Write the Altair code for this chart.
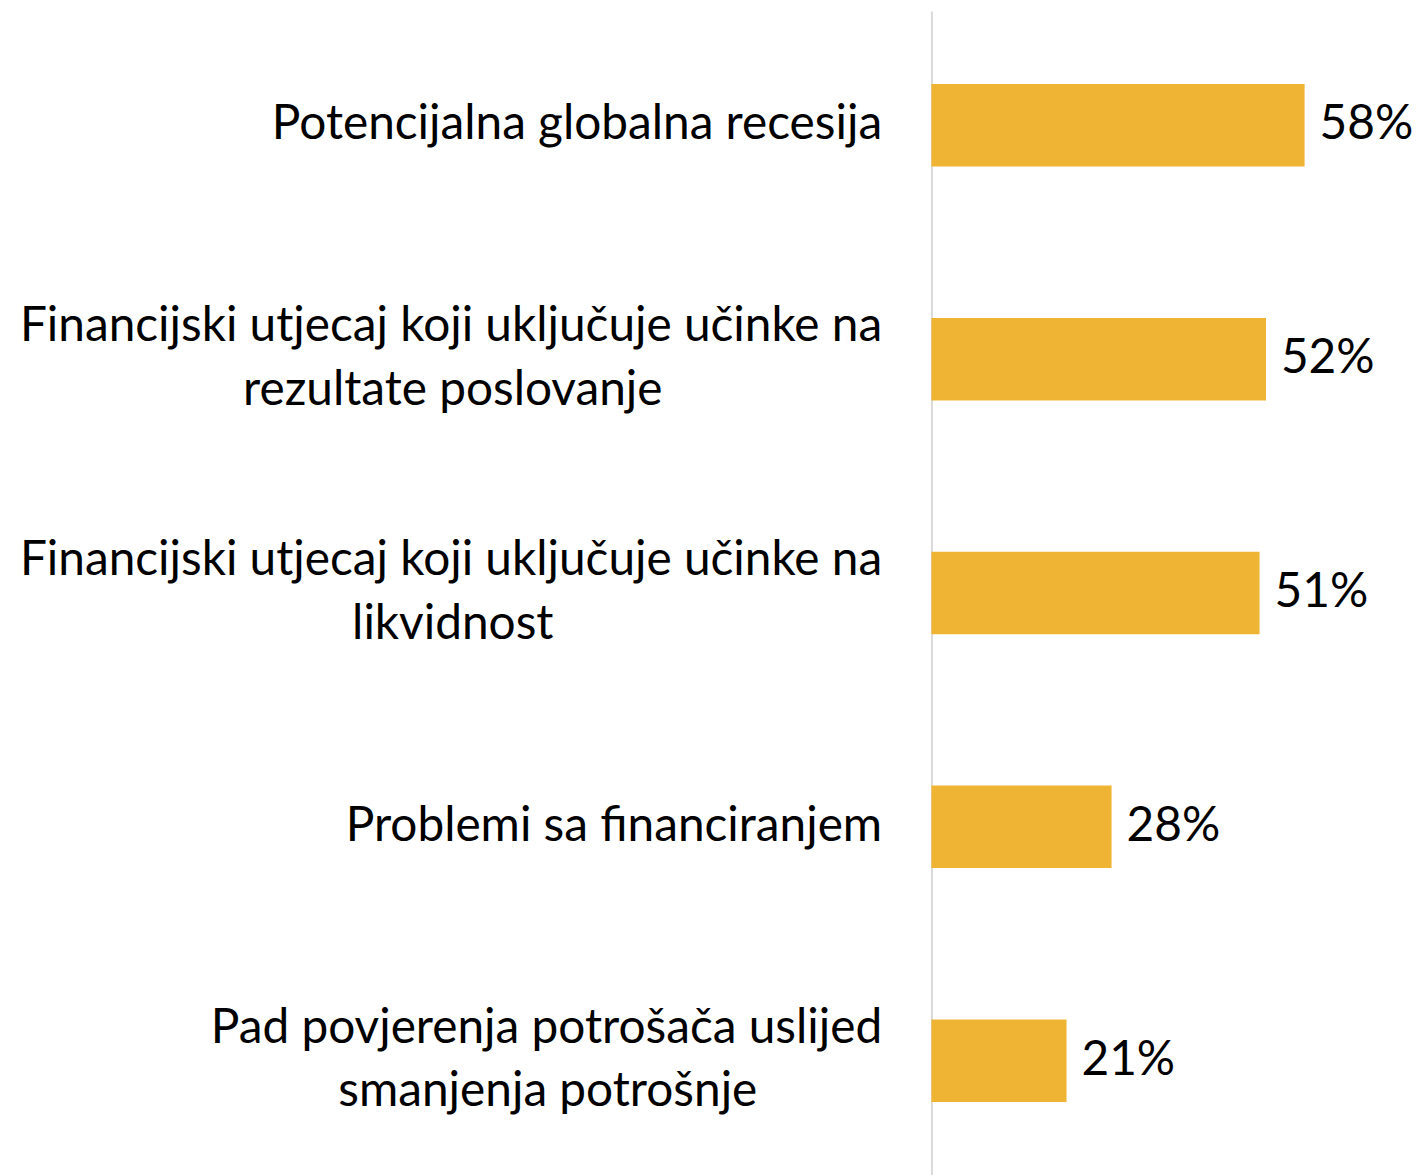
import altair as alt
import pandas as pd

categories = [
    "Potencijalna globalna recesija",
    "Financijski utjecaj koji uključuje učinke na|rezultate poslovanje",
    "Financijski utjecaj koji uključuje učinke na|likvidnost",
    "Problemi sa financiranjem",
    "Pad povjerenja potrošača uslijed|smanjenja potrošnje",
]
values = [58, 52, 51, 28, 21]
value_labels = ["58%", "52%", "51%", "28%", "21%"]

df = pd.DataFrame({"cat": categories, "val": values, "lab": value_labels})
df["line2"] = [c.split("|")[1] if "|" in c else "" for c in categories]

# style constants
FONT = "Lato"
FS = 48
LABEL_PAD = 50
LINE_SHIFT = 32
# approximate rendered width of the first label line (px), used to centre line 2 under it
FIRST_LINE_W = {1: 862, 2: 862, 4: 671}

y_scale = alt.Scale(paddingInner=0.647, paddingOuter=0.3128)
y = alt.Y(
    "cat:N",
    sort=categories,
    scale=y_scale,
    axis=alt.Axis(
        title=None,
        ticks=False,
        domain=True,
        domainColor="#d9d9d9",
        domainWidth=2,
        labelExpr="split(datum.label, '|')[0]",
        labelFont=FONT,
        labelFontSize=FS,
        labelColor="#000000",
        labelPadding=LABEL_PAD,
        labelAlign="right",
        labelBaseline="middle",
        labelLimit=0,
        labelOffset={
            "condition": {"test": "indexof(datum.label, '|') >= 0", "value": -LINE_SHIFT},
            "value": 0,
        },
    ),
)
y_plain = alt.Y("cat:N", sort=categories, scale=y_scale)
x = alt.X("val:Q", scale=alt.Scale(domain=[0, 75]), axis=None)

bars = alt.Chart(df).mark_bar(color="#F0B435").encode(x=x, y=y)
text = alt.Chart(df).mark_text(
    align="left", baseline="middle", dx=15, font=FONT, fontSize=FS, color="#000000"
).encode(x=x, y=y_plain, text="lab:N")

layers = [bars, text]
for i, w in FIRST_LINE_W.items():
    layers.append(
        alt.Chart(df)
        .transform_filter(alt.datum.cat == categories[i])
        .mark_text(
            align="center",
            baseline="middle",
            dx=-(LABEL_PAD + w / 2),
            dy=LINE_SHIFT,
            font=FONT,
            fontSize=FS,
            color="#000000",
        )
        .encode(x=alt.value(0), y=y_plain, text="line2:N")
    )

chart = (
    alt.layer(*layers)
    .properties(
        width=485,
        height=1170,
        autosize=alt.AutoSizeParams(type="none"),
        padding={"left": 928, "top": 0, "right": 0, "bottom": 0},
    )
    .configure_view(stroke=None)
)

chart.save("out.html", embed_options={"renderer": "svg", "actions": False})
